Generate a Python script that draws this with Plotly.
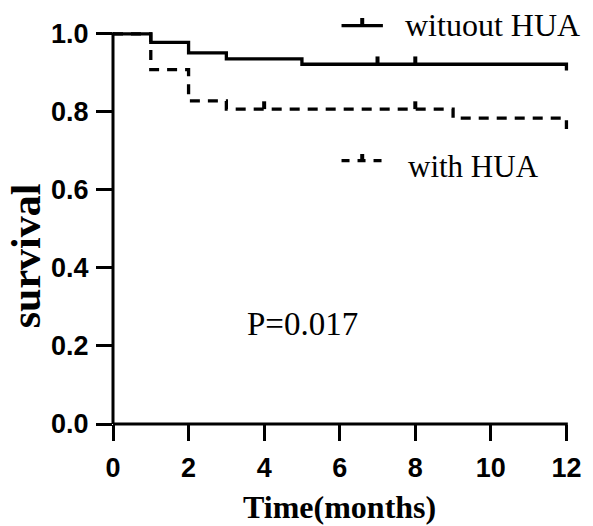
import plotly.graph_objects as go

# ---- data ----
time_without = [0, 1, 2, 3, 5, 12]
surv_without = [1.0, 0.978, 0.951, 0.936, 0.922, 0.906]
censor_without = [7, 8]

time_with = [0, 1, 2, 3, 9, 12]
surv_with = [1.0, 0.908, 0.828, 0.807, 0.784, 0.756]
censor_with = [4, 8]

x_ticks = [0, 2, 4, 6, 8, 10, 12]
y_ticks = [0.0, 0.2, 0.4, 0.6, 0.8, 1.0]
y_tick_text = ["0.0", "0.2", "0.4", "0.6", "0.8", "1.0"]

label_without = "wituout HUA"
label_with = "with HUA"
p_text = "P=0.017"
x_title = "Time(months)"
y_title = "survival"

# ---- layout geometry ----
W, H = 593, 526
ML, MR, MT, MB = 113, 12, 26, 102
XMAX, YMAX = 12.2, 1.02
PW, PH = W - ML - MR, H - MT - MB


def step_xy(t, s):
    xs, ys = [], []
    for i in range(len(t)):
        if i > 0:
            xs.append(t[i]); ys.append(s[i - 1])
        xs.append(t[i]); ys.append(s[i])
    return xs, ys


def surv_at(t, s, x):
    v = s[0]
    for ti, si in zip(t, s):
        if ti <= x:
            v = si
    return v


def censor_xy(times, t, s, h=0.02):
    xs, ys = [], []
    for c in times:
        v = surv_at(t, s, c)
        xs += [c, c, None]
        ys += [v, v + h, None]
    return xs, ys


def px(xp):
    return (xp - ML) / PW


def py(yp):
    return (H - MB - yp) / PH


fig = go.Figure()

xs, ys = step_xy(time_with, surv_with)
fig.add_trace(go.Scatter(x=xs, y=ys, mode="lines",
                         line=dict(color="black", width=3.3, dash="10px,8px"),
                         showlegend=False, hoverinfo="skip"))
cx, cy = censor_xy(censor_with, time_with, surv_with)
fig.add_trace(go.Scatter(x=cx, y=cy, mode="lines",
                         line=dict(color="black", width=4),
                         showlegend=False, hoverinfo="skip"))

xs, ys = step_xy(time_without, surv_without)
fig.add_trace(go.Scatter(x=xs, y=ys, mode="lines",
                         line=dict(color="black", width=3.3),
                         showlegend=False, hoverinfo="skip"))
cx, cy = censor_xy(censor_without, time_without, surv_without)
fig.add_trace(go.Scatter(x=cx, y=cy, mode="lines",
                         line=dict(color="black", width=4),
                         showlegend=False, hoverinfo="skip"))

shapes = [
    # axis lines (only up to 12 / 1.0)
    dict(type="line", xref="paper", yref="paper", x0=0, x1=px(ML + PW * 12 / XMAX) + 0.003,
         y0=0, y1=0, line=dict(color="black", width=3)),
    dict(type="line", xref="paper", yref="paper", x0=0, x1=0,
         y0=0, y1=1 / YMAX + 0.004, line=dict(color="black", width=3)),
    # legend samples
    dict(type="line", xref="paper", yref="paper", x0=px(345), x1=px(387),
         y0=py(25.7), y1=py(25.7), line=dict(color="black", width=3.3)),
    dict(type="line", xref="paper", yref="paper", x0=px(366), x1=px(366),
         y0=py(25.7), y1=py(18), line=dict(color="black", width=4)),
    dict(type="line", xref="paper", yref="paper", x0=px(345), x1=px(388),
         y0=py(160.7), y1=py(160.7), line=dict(color="black", width=3.3, dash="8px,8px")),
    dict(type="line", xref="paper", yref="paper", x0=px(366), x1=px(366),
         y0=py(160.7), y1=py(154), line=dict(color="black", width=4)),
]

serif = "Liberation Serif"
annotations = [
    dict(text=label_without, xref="paper", yref="paper", x=px(407), y=py(25),
         xanchor="left", yanchor="middle", showarrow=False,
         font=dict(family=serif, size=32, color="black")),
    dict(text=label_with, xref="paper", yref="paper", x=px(410), y=py(166),
         xanchor="left", yanchor="middle", showarrow=False,
         font=dict(family=serif, size=31, color="black")),
    dict(text=p_text, xref="paper", yref="paper", x=px(247), y=py(324),
         xanchor="left", yanchor="middle", showarrow=False,
         font=dict(family=serif, size=33, color="black")),
    dict(text=x_title, xref="paper", yref="paper", x=px(343), y=py(507),
         xanchor="center", yanchor="middle", showarrow=False,
         font=dict(family=serif, size=32, color="black", weight="bold")),
    dict(text=y_title, xref="paper", yref="paper", x=px(25), y=py(256),
         xanchor="center", yanchor="middle", showarrow=False, textangle=-90,
         font=dict(family=serif, size=42, color="black", weight="bold")),
]

tickfont = dict(family="Liberation Sans", size=27, color="black", weight="bold")
fig.update_layout(
    width=W, height=H,
    margin=dict(l=ML, r=MR, t=MT, b=MB, pad=0),
    paper_bgcolor="white", plot_bgcolor="white",
    shapes=shapes, annotations=annotations,
    xaxis=dict(range=[0, XMAX], tickvals=x_ticks, ticks="outside", ticklen=16,
               tickwidth=3, tickcolor="black", showline=False, showgrid=False,
               zeroline=False, tickfont=tickfont, ticklabelstandoff=4,
               fixedrange=True),
    yaxis=dict(range=[0, YMAX], tickvals=y_ticks, ticktext=y_tick_text,
               ticks="outside", ticklen=16, tickwidth=3, tickcolor="black",
               showline=False, showgrid=False, zeroline=False, tickfont=tickfont,
               ticklabelstandoff=2, fixedrange=True),
    showlegend=False,
)

fig.write_html("out.html", config={"displayModeBar": False})
